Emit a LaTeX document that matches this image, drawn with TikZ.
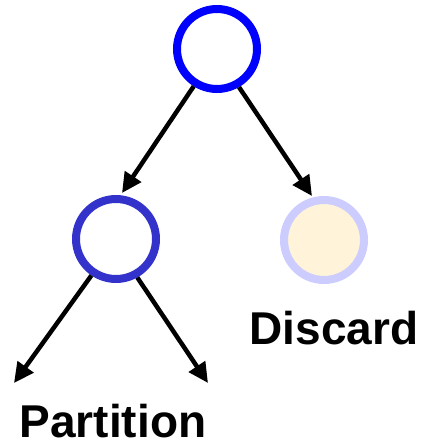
\documentclass[tikz,border=0pt]{standalone}
\usepackage{fontspec}
\setmainfont{Liberation Sans}
\usetikzlibrary{arrows.meta}
\definecolor{rootblue}{HTML}{0000FF}
\definecolor{midblue}{HTML}{3333CC}
\definecolor{paleblue}{HTML}{CCCCFF}
\definecolor{cream}{HTML}{FFF3D9}
\tikzset{
  treenode/.style={circle, draw, line width=8pt, minimum size=80pt, inner sep=0pt, fill=white},
  link/.style={line width=4.5pt, -{Triangle[length=20pt,width=19pt]}},
  caption/.style={font=\bfseries\fontsize{46pt}{50pt}\selectfont, anchor=base, inner sep=0pt}
}
\begin{document}
\begin{tikzpicture}[x=1pt,y=1pt]
  \useasboundingbox (0,0) rectangle (425,445);
  % tree nodes
  \node[treenode, draw=rootblue] (root) at (217,396) {};
  \node[treenode, draw=midblue] (left) at (116,206) {};
  \node[treenode, draw=paleblue, fill=cream] (right) at (324,205) {};
  % arrow tips
  \coordinate (tipL) at (122,252);
  \coordinate (tipR) at (312,249);
  \coordinate (tipLL) at (14,62);
  \coordinate (tipLR) at (208,62);
  % connectors
  \draw[link] (root.238) -- (tipL);
  \draw[link] (root.300) -- (tipR);
  \draw[link] (left.236) -- (tipLL);
  \draw[link] (left.299) -- (tipLR);
  % labels
  \node[caption] (discard) at (334,100) {Discard};
  \node[caption] (partition) at (113,8) {Partition};
\end{tikzpicture}
\end{document}
